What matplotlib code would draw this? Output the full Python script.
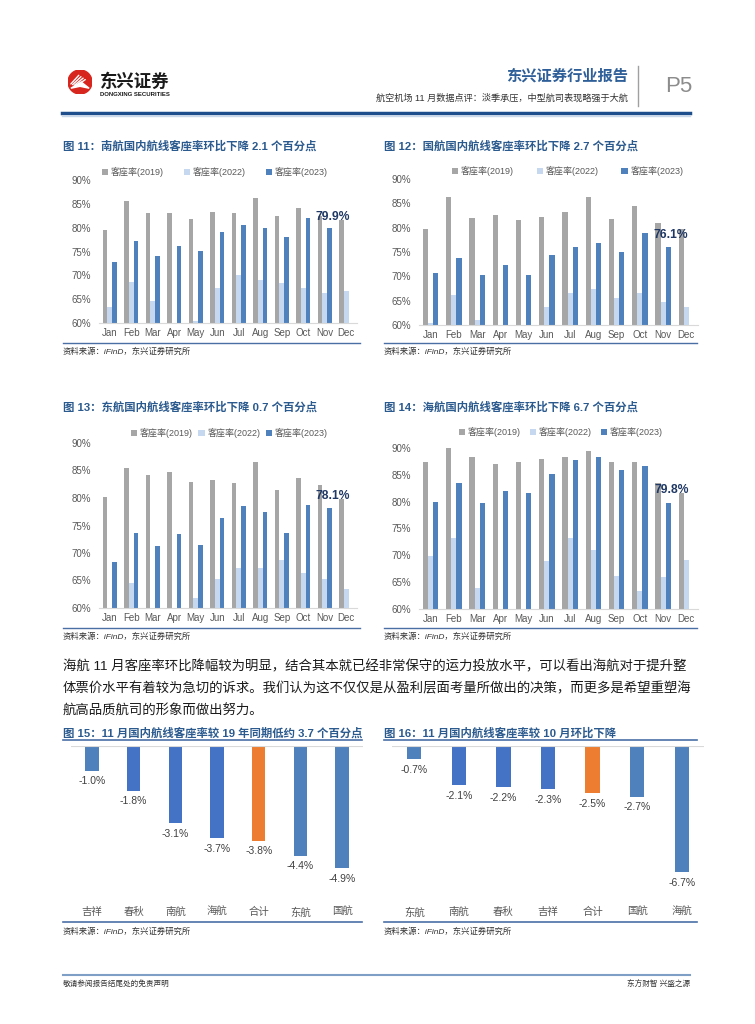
import numpy as np
import matplotlib.pyplot as plt
from matplotlib.patches import Circle, Polygon
from matplotlib.lines import Line2D

plt.rcParams['font.family'] = ['Liberation Sans', 'Noto Sans CJK SC', 'DejaVu Sans']

W, H = 755, 1024

# ---- data ----
months = ['Jan', 'Feb', 'Mar', 'Apr', 'May', 'Jun', 'Jul', 'Aug', 'Sep', 'Oct', 'Nov', 'Dec']
series_names = ['客座率(2019)', '客座率(2022)', '客座率(2023)']

# 南航
csair_2019 = [79.5, 85.6, 83.1, 83.0, 81.9, 83.3, 83.1, 86.3, 82.4, 84.2, 82.5, 81.7]
csair_2022 = [63.4, 68.6, 64.6, 59.8, 60.4, 67.3, 70.0, 69.0, 68.4, 67.3, 66.3, 66.8]
csair_2023 = [72.8, 77.1, 74.0, 76.1, 75.1, 79.1, 80.5, 80.0, 78.0, 82.0, 79.9, np.nan]

# 国航
airchina_2019 = [79.7, 86.2, 81.9, 82.6, 81.5, 82.1, 83.2, 86.2, 81.8, 84.4, 81.0, 79.7]
airchina_2022 = [60.5, 66.2, 61.0, 59.8, 59.8, 63.6, 66.5, 67.3, 65.5, 66.5, 64.8, 63.8]
airchina_2023 = [70.6, 73.7, 70.2, 72.4, 70.3, 74.3, 76.0, 76.8, 75.1, 78.9, 76.1, np.nan]

# 东航
ceair_2019 = [80.1, 85.5, 84.1, 84.8, 83.0, 83.2, 82.7, 86.5, 81.4, 83.6, 82.4, 79.8]
ceair_2022 = [59.8, 64.5, 59.8, 59.8, 61.9, 65.3, 67.3, 67.3, 68.8, 66.3, 65.3, 63.5]
ceair_2023 = [68.4, 73.6, 71.2, 73.5, 71.5, 76.4, 78.5, 77.5, 73.6, 78.8, 78.1, np.nan]

# 海航
hna_2019 = [87.4, 90.0, 88.3, 87.1, 87.3, 87.9, 88.3, 89.4, 87.3, 87.4, 83.5, 81.6]
hna_2022 = [69.9, 73.2, 63.9, 59.8, 59.8, 69.0, 73.2, 71.0, 66.2, 63.3, 66.0, 69.1]
hna_2023 = [80.0, 83.5, 79.8, 81.9, 81.7, 85.1, 87.8, 88.3, 85.9, 86.6, 79.8, np.nan]

# 11月 vs 2019同期
gap19_names = ['吉祥', '春秋', '南航', '海航', '合计', '东航', '国航']
gap19_vals = [-1.0, -1.8, -3.1, -3.7, -3.8, -4.4, -4.9]

# 11月 vs 10月
mom_names = ['东航', '南航', '春秋', '吉祥', '合计', '国航', '海航']
mom_vals = [-0.7, -2.1, -2.2, -2.3, -2.5, -2.7, -6.7]

paragraph = [
    '海航 11 月客座率环比降幅较为明显，结合其本就已经非常保守的运力投放水平，可以看出海航对于提升整',
    '体票价水平有着较为急切的诉求。我们认为这不仅仅是从盈利层面考量所做出的决策，而更多是希望重塑海',
    '航高品质航司的形象而做出努力。',
]

TITLE_C = '#2b5a8e'
GRAY_T = '#595959'
LINE_C = '#4a6fa5'


def fx(x):
    return x / W


def fy(y):
    return 1 - y / H


def rect(x0, y0, x1, y1):
    # pixel box (top-left origin) -> figure rect
    return [fx(x0), fy(y1), fx(x1) - fx(x0), fy(y0) - fy(y1)]


def hline(fig, x0, x1, y, color, lw):
    fig.add_artist(Line2D([fx(x0), fx(x1)], [fy(y), fy(y)], color=color, lw=lw,
                          transform=fig.transFigure))


def month_chart(fig, box, v19, v22, v23, legend_x, legend_y, colsp):
    ax = fig.add_axes(rect(*box))
    x = np.arange(12)
    w = 0.22
    b1 = ax.bar(x - w, v19, w, color='#a6a6a6')
    b2 = ax.bar(x, v22, w, color='#c5d8ef')
    b3 = ax.bar(x + w, v23, w, color='#4f81bd')
    ax.set_ylim(60, 90)
    ax.set_xlim(-0.5, 11.5)
    ax.set_yticks(range(60, 91, 5))
    ax.set_yticklabels(['%d%%' % v for v in range(60, 91, 5)])
    ax.set_xticks(x)
    ax.set_xticklabels(months)
    ax.tick_params(axis='y', length=0, pad=5.5, labelsize=7, labelcolor=GRAY_T)
    ax.tick_params(axis='x', length=0, pad=3.5, labelsize=7, labelcolor=GRAY_T)
    for s in ['top', 'right', 'left']:
        ax.spines[s].set_visible(False)
    ax.spines['bottom'].set_color('#d9d9d9')
    # highlight Nov 2023
    ax.text(10.35, v23[10] + 2.3, '%.1f%%' % v23[10], ha='center', va='center',
            fontsize=8.7, fontweight='bold', color='#1f3864')
    ax.legend([b1, b2, b3], series_names, ncol=3, loc='center left',
              bbox_to_anchor=(fx(legend_x), fy(legend_y)), bbox_transform=fig.transFigure,
              frameon=False, fontsize=6.5, handlelength=0.7, handleheight=0.7,
              handletextpad=0.3, columnspacing=colsp, borderpad=0, borderaxespad=0,
              labelcolor=GRAY_T)
    return ax


def change_chart(fig, box, names, vals, ymin):
    ax = fig.add_axes(rect(*box))
    x = np.arange(len(names))
    colors = ['#4f81bd', '#4472c4', '#4472c4', '#4472c4', '#ed7d31', '#4f81bd', '#4f81bd']
    ax.bar(x, vals, 0.32, color=colors)
    ax.axhline(0, color='#d9d9d9', lw=0.8)
    for xi, v in zip(x, vals):
        ax.annotate('%.1f%%' % v, (xi, v), xytext=(0, -4), textcoords='offset points',
                    ha='center', va='top', fontsize=7.5, color='#404040')
    ax.set_ylim(ymin, 0)
    ax.set_xlim(-0.5, len(names) - 0.5)
    ax.set_xticks(x)
    ax.set_xticklabels(names)
    ax.set_yticks([])
    ax.tick_params(axis='x', length=0, pad=1.5, labelsize=7.5, labelcolor=GRAY_T)
    for s in ax.spines.values():
        s.set_visible(False)
    return ax


fig = plt.figure(figsize=(W / 100, H / 100), dpi=100)

# ---- header ----
logo_ax = fig.add_axes(rect(68, 70, 92, 94))
logo_ax.set_xlim(0, 1)
logo_ax.set_ylim(0, 1)
logo_ax.set_aspect('equal')
logo_ax.axis('off')
logo_ax.add_patch(Circle((0.5, 0.5), 0.5, color='#d7261e'))
for k in range(4):
    logo_ax.plot([0.12 + k * 0.07, 0.45 + k * 0.09], [0.42 - k * 0.03, 0.78 - k * 0.06],
                 color='white', lw=1.0, solid_capstyle='round')
logo_ax.add_patch(Polygon([[0.12, 0.24], [0.55, 0.5], [0.88, 0.24], [0.5, 0.32]], closed=True,
                          color='white'))
fig.text(fx(100), fy(81), '东兴证券', fontsize=12.5, fontweight='bold', color='#1a1a1a',
         va='center', ha='left')
fig.text(fx(100), fy(95), 'DONGXING SECURITIES', fontsize=4.3, fontweight='bold',
         color='#1a1a1a', va='center', ha='left')
fig.text(fx(628), fy(76), '东兴证券行业报告', fontsize=11, fontweight='bold', color='#2f5f98',
         va='center', ha='right')
fig.text(fx(628), fy(98), '航空机场 11 月数据点评：淡季承压，中型航司表现略强于大航',
         fontsize=6.6, color='#333333', va='center', ha='right')
fig.add_artist(Line2D([fx(638), fx(638)], [fy(66), fy(106)], color='#a0a0a0', lw=1,
                      transform=fig.transFigure))
fig.text(fx(665), fy(86), 'P5', fontsize=16, color='#8c8c8c', va='center', ha='left')
hline(fig, 62, 690, 113, '#1f4e8c', 2.5)
hline(fig, 62, 690, 115.5, '#c9d7ea', 1)

# ---- monthly charts ----
TS = 8.2
fig.text(fx(63), fy(146), '图 11：南航国内航线客座率环比下降 2.1 个百分点', fontsize=TS,
         fontweight='bold', color=TITLE_C, va='center')
fig.text(fx(384), fy(146), '图 12：国航国内航线客座率环比下降 2.7 个百分点', fontsize=TS,
         fontweight='bold', color=TITLE_C, va='center')
fig.text(fx(63), fy(407), '图 13：东航国内航线客座率环比下降 0.7 个百分点', fontsize=TS,
         fontweight='bold', color=TITLE_C, va='center')
fig.text(fx(384), fy(407), '图 14：海航国内航线客座率环比下降 6.7 个百分点', fontsize=TS,
         fontweight='bold', color=TITLE_C, va='center')

month_chart(fig, (99, 180, 357, 323), csair_2019, csair_2022, csair_2023, 102, 172, 2.2)
month_chart(fig, (419, 179, 698, 325), airchina_2019, airchina_2022, airchina_2023, 452, 171, 2.5)
month_chart(fig, (99, 443, 357, 608), ceair_2019, ceair_2022, ceair_2023, 131, 433, 0.6)
month_chart(fig, (419, 448, 698, 609), hna_2019, hna_2022, hna_2023, 459, 432, 1.0)

src = '资料来源：iFinD，东兴证券研究所'
for (x0, x1, yl, ys) in [(63, 360, 343, 352), (384, 697, 343, 352),
                         (63, 360, 628, 637), (384, 697, 628, 637)]:
    hline(fig, x0, x1, yl, LINE_C, 1)
    fig.text(fx(x0), fy(ys), src, fontsize=6, style='italic', color='#333333', va='center')

# ---- paragraph ----
for i, line in enumerate(paragraph):
    fig.text(fx(63), fy(667 + 22 * i), line, fontsize=9.65, color='#1a1a1a', va='center')

# ---- change charts ----
fig.text(fx(63), fy(733), '图 15：11 月国内航线客座率较 19 年同期低约 3.7 个百分点',
         fontsize=TS, fontweight='bold', color=TITLE_C, va='center')
fig.text(fx(384), fy(733), '图 16：11 月国内航线客座率较 10 月环比下降',
         fontsize=TS, fontweight='bold', color=TITLE_C, va='center')
hline(fig, 63, 362, 740, LINE_C, 1.2)
hline(fig, 384, 697, 740, LINE_C, 1.2)

change_chart(fig, (71, 746, 363, 905), gap19_names, gap19_vals, -159 / 24.9)
change_chart(fig, (392, 746, 704, 905), mom_names, mom_vals, -159 / 18.8)

for (x0, x1) in [(63, 362), (384, 697)]:
    hline(fig, x0, x1, 922, LINE_C, 1.2)
    fig.text(fx(x0), fy(932), src, fontsize=6, style='italic', color='#333333', va='center')

# ---- footer ----
hline(fig, 63, 690, 975, '#7f9fc6', 1.5)
fig.text(fx(63), fy(984), '敬请参阅报告结尾处的免责声明', fontsize=5.5, color='#333333', va='center')
fig.text(fx(690), fy(984), '东方财智 兴盛之源', fontsize=5.5, color='#333333', va='center', ha='right')

fig.savefig('out.png', dpi=100)
